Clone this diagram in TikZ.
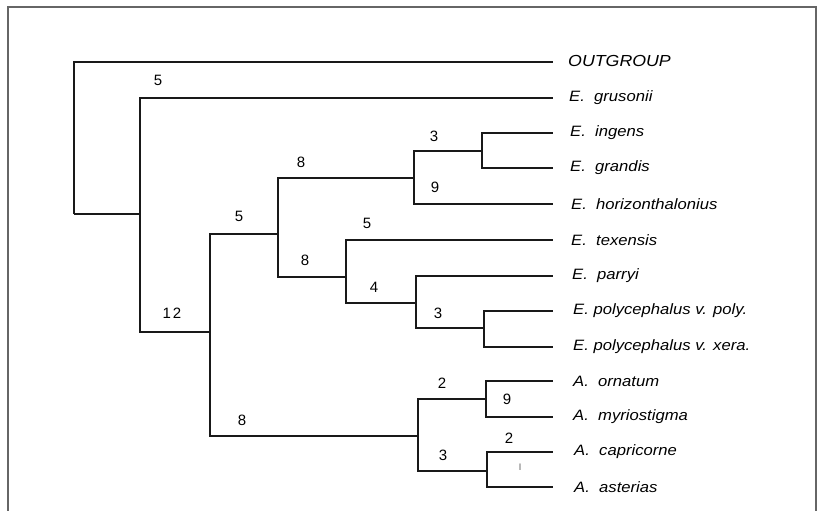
\documentclass[tikz,border=0pt]{standalone}
\usepackage{fontspec}
\setmainfont{Liberation Sans}
\newfontfamily\widesans[FakeStretch=1.11]{Liberation Sans}
\begin{document}
\begin{tikzpicture}[x=1pt,y=-1pt,
  branch/.style={line width=2.8pt,black!90,line join=miter},
  taxon/.style={anchor=west,inner sep=0pt,font=\widesans\fontsize{15}{17}\selectfont\itshape},
  support/.style={inner sep=0pt,font=\fontsize{15}{17}\selectfont},
  frame/.style={line width=1.3pt,black!60}]
\useasboundingbox (0,0) rectangle (819,511);
\draw[frame] (8,511) -- (8,7) -- (816,7) -- (816,511);
% tip ends
\foreach \n/\y in {out/62,gru/98,ing/133,gra/168,hor/204,tex/240,par/276,pol/311,xer/347,orn/381,myr/417,cap/452,ast/487}
  \coordinate (t\n) at (553,\y);
% internal nodes
\coordinate (R) at (74,214);
\coordinate (A) at (140,214);
\coordinate (B) at (210,332);
\coordinate (C) at (278,234);
\coordinate (D) at (414,178);
\coordinate (E) at (482,151);
\coordinate (F) at (346,277);
\coordinate (G) at (416,303);
\coordinate (H) at (484,328);
\coordinate (I) at (418,436);
\coordinate (J) at (486,399);
\coordinate (K) at (487,471);
% branches
\draw[branch] (R) |- (tout);
\draw[branch] (R) -- (A);
\draw[branch] (A) |- (tgru);
\draw[branch] (A) |- (B);
\draw[branch] (B) |- (C);
\draw[branch] (B) |- (I);
\draw[branch] (C) |- (D);
\draw[branch] (C) |- (F);
\draw[branch] (D) |- (E);
\draw[branch] (D) |- (thor);
\draw[branch] (E) |- (ting);
\draw[branch] (E) |- (tgra);
\draw[branch] (F) |- (ttex);
\draw[branch] (F) |- (G);
\draw[branch] (G) |- (tpar);
\draw[branch] (G) |- (H);
\draw[branch] (H) |- (tpol);
\draw[branch] (H) |- (txer);
\draw[branch] (I) |- (J);
\draw[branch] (I) |- (K);
\draw[branch] (J) |- (torn);
\draw[branch] (J) |- (tmyr);
\draw[branch] (K) |- (tcap);
\draw[branch] (K) |- (tast);
% taxa
\node[taxon,font=\widesans\fontsize{16}{18}\selectfont\itshape] (nout) at (568,61) {OUTGROUP};
\node[taxon] (ngru) at (569,98) {E.\ \ grusonii};
\node[taxon] (ning) at (570,133) {E.\ \ ingens};
\node[taxon] (ngra) at (570,168) {E.\ \ grandis};
\node[taxon] (nhor) at (571,204) {E.\ \ horizonthalonius};
\node[taxon] (ntex) at (571,240) {E.\ \ texensis};
\node[taxon] (npar) at (572,276) {E.\ \ parryi};
\node[taxon] (npol) at (573,311) {E. polycephalus v. poly.};
\node[taxon] (nxer) at (573,347) {E. polycephalus v. xera.};
\node[taxon] (norn) at (573,381) {A.\ \ ornatum};
\node[taxon] (nmyr) at (573,417) {A.\ \ myriostigma};
\node[taxon] (ncap) at (574,452) {A.\ \ capricorne};
\node[taxon] (nast) at (574,487) {A.\ \ asterias};
% support values
\node[support] (s1) at (158,80) {5};
\node[support] (s2) at (172,313) {1\kern2pt2};
\node[support] (s3) at (239,216) {5};
\node[support] (s4) at (301,162) {8};
\node[support] (s5) at (434,136) {3};
\node[support] (s6) at (435,187) {9};
\node[support] (s7) at (367,223) {5};
\node[support] (s8) at (305,260) {8};
\node[support] (s9) at (374,287) {4};
\node[support] (s10) at (438,313) {3};
\node[support] (s11) at (242,420) {8};
\node[support] (s12) at (442,383) {2};
\node[support] (s13) at (507,399) {9};
\node[support] (s14) at (443,455) {3};
\node[support] (s15) at (509,438) {2};
\node[support,font=\fontsize{9}{10}\selectfont,black!70] (s16) at (520,467) {l};
\end{tikzpicture}
\end{document}
